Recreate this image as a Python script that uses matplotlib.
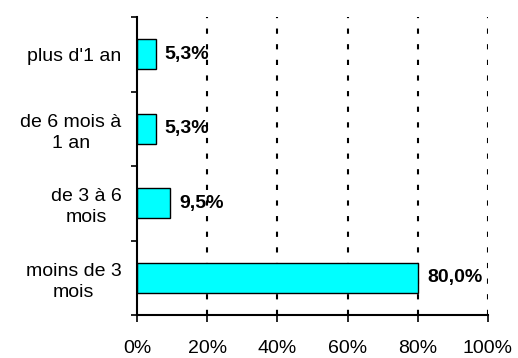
import matplotlib.pyplot as plt
import numpy as np

# durée, du bas vers le haut
categories = ["moins de 3\nmois", "de 3 à 6\nmois", "de 6 mois à\n1 an", "plus d'1 an"]
values = [80.0, 9.5, 5.3, 5.3]
xticks = [0, 20, 40, 60, 80, 100]

plt.rcParams['font.family'] = ['Liberation Sans', 'DejaVu Sans']

fig = plt.figure(figsize=(5.18, 3.58), dpi=100)
ax = fig.add_axes([0.2645, 0.12, 0.6775, 0.8325])

y = np.arange(len(categories))
ax.barh(y, values, height=0.4, color='#00FFFF', edgecolor='black', linewidth=1.0, zorder=2)

# valeurs à droite des barres
for yi, v in zip(y, values):
    ax.text(v + 2.6, yi, f"{v:.1f}%".replace('.', ','), va='center', ha='left',
            fontsize=14, fontweight='bold', zorder=0.5)

ax.set_xlim(0, 100)
ax.set_ylim(-0.5, len(categories) - 0.5)

# grille verticale en pointillés
for xv in xticks[1:]:
    ax.axvline(xv, color='black', linewidth=1.5, linestyle=(0, (2.5, 5)), zorder=1)

ax.set_xticks(xticks)
ax.set_xticklabels([f"{t}%" for t in xticks], fontsize=14)
ax.tick_params(axis='x', direction='out', length=5, width=1.2, pad=13)

ax.set_yticks(y)
ax.set_yticklabels(categories, fontsize=14, ha='right', multialignment='center',
                   linespacing=1.3)
ax.set_yticks(np.arange(-0.5, len(categories)), minor=True)
ax.tick_params(axis='y', which='major', length=0, pad=11)
ax.tick_params(axis='y', which='minor', direction='out', length=4, width=1.2)

for s in ['top', 'right']:
    ax.spines[s].set_visible(False)
for s in ['left', 'bottom']:
    ax.spines[s].set_linewidth(1.5)

fig.savefig('out.png', dpi=100)
